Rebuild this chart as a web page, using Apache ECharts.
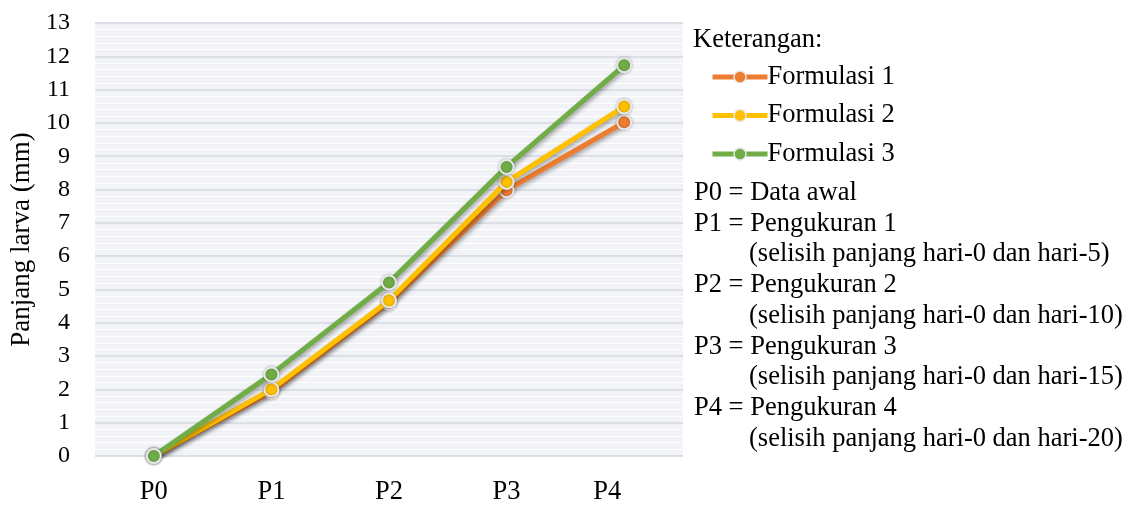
<!DOCTYPE html>
<html>
<head>
<meta charset="utf-8">
<script src="https://cdn.jsdelivr.net/npm/echarts@6/dist/echarts.min.js"></script>
<style>
html,body{margin:0;padding:0;background:#fff;}
#chart{width:1130px;height:506px;}
</style>
</head>
<body>
<div id="chart"></div>
<script>
const categories = ['P0', 'P1', 'P2', 'P3', 'P4'];
const formulasi1 = [0, 1.93, 4.6, 7.98, 10.02];
const formulasi2 = [0, 2.0, 4.67, 8.23, 10.49];
const formulasi3 = [0, 2.45, 5.21, 8.68, 11.73];
const seriesNames = ['Formulasi 1', 'Formulasi 2', 'Formulasi 3'];
const seriesColors = ['#ED7D31', '#FFC000', '#70AD47'];
const yTitle = 'Panjang larva (mm)';
const legendTitle = 'Keterangan:';
const noteLines = [
  'P0 = Data awal',
  'P1 = Pengukuran 1',
  '(selisih panjang hari-0 dan hari-5)',
  'P2 = Pengukuran 2',
  '(selisih panjang hari-0 dan hari-10)',
  'P3 = Pengukuran 3',
  '(selisih panjang hari-0 dan hari-15)',
  'P4 = Pengukuran 4',
  '(selisih panjang hari-0 dan hari-20)'
];

const FONT = '"Liberation Serif", "Times New Roman", serif';
const dataSets = [formulasi1, formulasi2, formulasi3];

const chart = echarts.init(document.getElementById('chart'), null, {renderer: 'canvas'});

const series = dataSets.map((d, i) => ({
  name: seriesNames[i],
  type: 'line',
  data: d,
  symbol: 'circle',
  symbolSize: 14,
  z: 2 + i,
  lineStyle: {
    width: 5,
    color: seriesColors[i],
    shadowColor: 'rgba(0,0,0,0.35)',
    shadowBlur: 4,
    shadowOffsetX: 1.5,
    shadowOffsetY: 2
  },
  itemStyle: {
    color: seriesColors[i],
    borderColor: '#e8e8e8',
    borderWidth: 2,
    shadowColor: 'rgba(0,0,0,0.25)',
    shadowBlur: 3
  },
  emphasis: {disabled: true}
}));

const graphics = [{
  type: 'text',
  left: 693,
  top: 27,
  style: {text: legendTitle, font: '26.5px ' + FONT, fill: '#000'}
}];
noteLines.forEach((t, i) => {
  const indent = t.charAt(0) === '(';
  graphics.push({
    type: 'text',
    x: indent ? 749 : 694,
    y: 193 + i * 30.75,
    style: {text: t, font: '26.5px ' + FONT, fill: '#000', verticalAlign: 'middle', align: 'left'}
  });
});

chart.setOption({
  backgroundColor: '#ffffff',
  animation: false,
  grid: {
    left: 95, right: 447, top: 23, bottom: 44,
    show: true, backgroundColor: '#f2f3f7', borderWidth: 0
  },
  xAxis: {
    type: 'category',
    data: categories,
    boundaryGap: true,
    axisLine: {show: false},
    axisTick: {show: false},
    splitLine: {show: false},
    axisLabel: {
      margin: 23,
      fontFamily: FONT,
      fontSize: 26.5,
      color: '#000',
      formatter: (v) => v === 'P4' ? '{p4|' + v + '}' : v,
      rich: {p4: {fontFamily: FONT, fontSize: 26.5, color: '#000', padding: [0, 34, 0, 0]}}
    }
  },
  yAxis: {
    type: 'value',
    min: 0, max: 13, interval: 1,
    name: yTitle,
    nameLocation: 'middle',
    nameRotate: 90,
    nameGap: 57,
    nameTextStyle: {fontFamily: FONT, fontSize: 27, color: '#000'},
    axisLine: {show: false},
    axisTick: {show: false},
    axisLabel: {margin: 25, fontFamily: FONT, fontSize: 24, color: '#000'},
    splitLine: {lineStyle: {color: '#dcdfe6', width: 2}},
    minorTick: {show: false, splitNumber: 5},
    minorSplitLine: {show: true, lineStyle: {color: '#ffffff', width: 1}}
  },
  legend: {
    show: true,
    orient: 'vertical',
    left: 705,
    top: 57,
    itemWidth: 55,
    itemHeight: 15,
    itemGap: 8.5,
    itemStyle: {borderColor: '#e8e8e8', borderWidth: 1.5},
    lineStyle: {width: 5},
    data: seriesNames,
    textStyle: {fontFamily: FONT, fontSize: 26.5, color: '#000', lineHeight: 30, padding: [0, 0, 0, -5]},
    selectedMode: false
  },
  graphic: graphics,
  series: series
});
</script>
</body>
</html>
